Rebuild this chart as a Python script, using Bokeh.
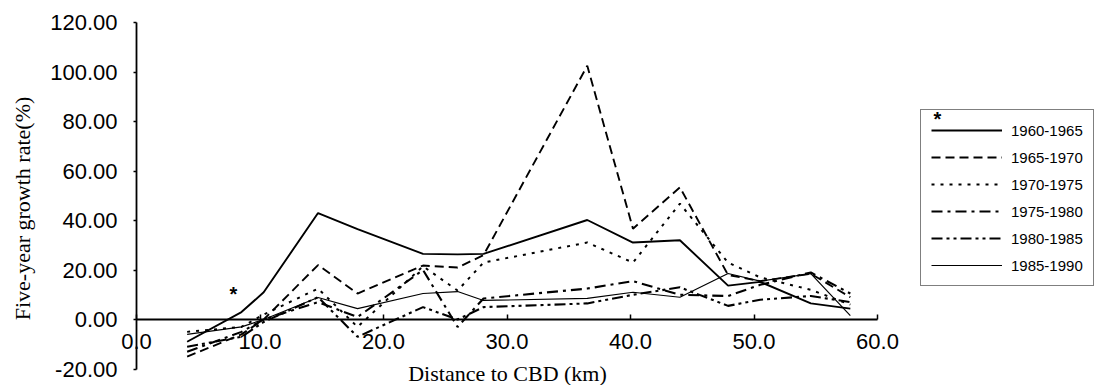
import math
from bokeh.plotting import figure
from bokeh.models import (Range1d, LinearAxis, NumeralTickFormatter, FixedTicker,
                          Legend, LegendItem, Label)
from bokeh.core.properties import value
from bokeh.embed import file_html
from bokeh.resources import INLINE

# ---- data ----
dist = [4.1, 8.5, 10.3, 14.7, 17.9, 23.2, 26.0, 28.1, 36.5, 40.2, 44.0, 47.9, 50.5, 54.6, 57.8]
g1960_1965 = [-9, 3, 11, 43, 36.5, 26.5, 26.3, 26.5, 40.2, 31.1, 32.0, 13.7, 15.2, 6.5, 4.4]
g1965_1970 = [-15, -6, 0, 22, 10.5, 21.8, 21, 26, 102.5, 36.7, 53.4, 18, 15.5, 18.5, 9]
g1970_1975 = [-5, -3, 2, 12.5, -3, 21.5, 11.7, 23, 31.1, 23, 46.8, 23, 17, 12, 6]
g1975_1980 = [-13, -5, 0, 7, 1, 20, -3, 8.5, 12.5, 15.5, 10, 9.5, 14, 19, 10.5]
g1980_1985 = [-11, -7, -1, 9, -7, 5, 0, 5, 6.5, 10, 13, 5.5, 8, 9.5, 7]
g1985_1990 = [-6, -3, 0, 8.9, 4.4, 10.5, 11.3, 7.7, 8.5, 11, 9, 18.6, 15.5, 18.5, 1.6]
periods = ["1960-1965", "1965-1970", "1970-1975", "1975-1980", "1980-1985", "1985-1990"]
star_x = [7.85]
star_y = [10.5]
x_ticks = [0, 10, 20, 30, 40, 50, 60]
y_ticks = [-20, 0, 20, 40, 60, 80, 100, 120]
x_lo, x_hi = 0, 60
y_lo, y_hi = -20, 120

series = [g1960_1965, g1965_1970, g1970_1975, g1975_1980, g1980_1985, g1985_1990]
dashes = ["solid", "9 5", "3 6", "11 5 3 5", "11 4 3 4 3 4", "solid"]
widths = [1.9, 1.9, 2.0, 2.1, 2.1, 1.2]

SANS = "Liberation Sans"
SERIF = "Liberation Serif"

# ---- layout: canvas pixels of the axes box ----
W, H = 1101, 385
AX_L, AX_R = 136.0, 877.0      # x = 0 and x = 60
AX_T, AX_B = 22.0, 368.5       # y = 120 and y = -20
sx = (AX_R - AX_L) / (x_hi - x_lo)
sy = (AX_B - AX_T) / (y_hi - y_lo)
xr = Range1d(x_lo - AX_L / sx, x_hi + (W - AX_R) / sx)
yr = Range1d(y_lo - (H - AX_B) / sy, y_hi + AX_T / sy)

p = figure(width=W, height=H, output_backend="svg", toolbar_location=None,
           x_range=xr, y_range=yr, x_axis_location=None, y_axis_location=None,
           min_border=0, min_border_left=0, min_border_right=0,
           min_border_top=0, min_border_bottom=0)
p.outline_line_color = None
p.xgrid.visible = False
p.ygrid.visible = False
p.background_fill_color = "white"
p.border_fill_color = "white"

# y axis at x = 0
yax = LinearAxis(ticker=FixedTicker(ticks=y_ticks), formatter=NumeralTickFormatter(format="0.00"),
                 fixed_location=0, bounds=(y_lo, y_hi))
yax.major_label_text_font = SANS
yax.major_label_text_font_size = "22px"
yax.major_label_text_color = "black"
yax.major_tick_in = 0
yax.major_tick_out = 3
yax.minor_tick_line_color = None
yax.major_label_standoff = 16
yax.axis_line_width = 1.8
yax.major_tick_line_width = 1.5
p.add_layout(yax, "left")

# x axis at y = 0
xax = LinearAxis(ticker=FixedTicker(ticks=x_ticks), formatter=NumeralTickFormatter(format="0.0"),
                 fixed_location=0, bounds=(x_lo, x_hi))
xax.major_label_text_font = SANS
xax.major_label_text_font_size = "22px"
xax.major_label_text_color = "black"
xax.major_tick_in = 5
xax.major_tick_out = 0
xax.minor_tick_line_color = None
xax.major_label_standoff = 14
xax.axis_line_width = 1.8
xax.major_tick_line_width = 1.5
p.add_layout(xax, "below")

items = []
for name, ys, dash, w in zip(periods, series, dashes, widths):
    r = p.line(dist, ys, line_color="black", line_width=w, line_dash=dash)
    items.append(LegendItem(label=name, renderers=[r]))

p.text(x=star_x, y=star_y, text=["*"], text_font=value(SANS), text_font_size="20px",
       text_font_style="bold", text_align="center", text_baseline="middle", text_color="black")

legend = Legend(items=items, location=(920, 99))
legend.label_text_font = SANS
legend.label_text_font_size = "15px"
legend.label_text_color = "black"
legend.glyph_width = 71
legend.glyph_height = 20
legend.label_height = 20
legend.spacing = 7
legend.padding = 10
legend.margin = 0
legend.label_standoff = 9
legend.border_line_color = "black"
legend.border_line_width = 1.8
legend.background_fill_alpha = 0
p.add_layout(legend, "center")

p.add_layout(Label(x=937, y=267, x_units="screen", y_units="screen", text="*",
                   text_font=SANS, text_font_size="20px", text_font_style="bold",
                   text_align="center", text_baseline="middle", text_color="black",
                   level="overlay"))

p.add_layout(Label(x=22, y=177, x_units="screen", y_units="screen", angle=math.pi / 2,
                   text="Five-year growth rate(%)", text_font=SERIF, text_font_size="22px",
                   text_align="center", text_baseline="middle", text_color="black"))
p.add_layout(Label(x=507, y=12, x_units="screen", y_units="screen",
                   text="Distance to CBD (km)", text_font=SERIF, text_font_size="22px",
                   text_align="center", text_baseline="middle", text_color="black"))

open("out.html", "w").write(file_html(p, INLINE))
